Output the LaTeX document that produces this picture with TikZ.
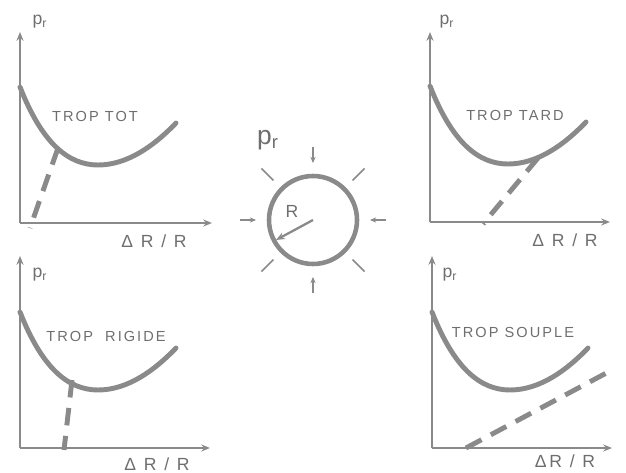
\documentclass[tikz,border=0pt]{standalone}
\usepackage{fontspec}
\setmainfont{Liberation Sans}
\usetikzlibrary{arrows.meta}
\definecolor{ink}{RGB}{138,138,138}
\definecolor{txt}{RGB}{110,110,110}

% U-shaped pressure curve, local coordinates (origin = axis corner)
\newcommand{\prcurve}{(0,-136) .. controls (22,-80) and (48,-58) .. (78,-58)
  .. controls (108,-58) and (135,-78) .. (156,-100)}

\begin{document}
\begin{tikzpicture}[x=0.02cm, y=-0.02cm,
  axis/.style={draw=ink, line width=1.1pt, -{Stealth[length=5pt, width=4pt]}},
  curve/.style={draw=ink, line width=2.8pt, line cap=round},
  tangent/.style={draw=ink, line width=2.8pt, dash pattern=on 10pt off 6pt},
  ring/.style={draw=ink, line width=2.6pt},
  press/.style={draw=ink, line width=0.9pt, -{Stealth[length=3.5pt, width=3pt]}},
  radarrow/.style={draw=ink, line width=1.3pt, -{Stealth[length=5pt, width=4pt]}},
  ray/.style={draw=ink, line width=0.9pt},
  caselabel/.style={text=txt, font=\fontsize{8.3}{9}\selectfont\addfontfeature{LetterSpace=14}},
  axlabel/.style={text=txt, font=\fontsize{10}{11}\selectfont\addfontfeature{LetterSpace=16}},
  plabel/.style={text=txt, font=\fontsize{10}{11}\selectfont},
  bigp/.style={text=txt, font=\fontsize{15}{17}\selectfont},
]
  \useasboundingbox (0,0) rectangle (626,473);

  % Top left: trop tot
  \begin{scope}[shift={(20,223)}]
    \coordinate (tlO) at (0,0);
    \coordinate (tlY) at (0,-191);
    \coordinate (tlX) at (192,0);
    \draw[axis] (tlO) -- (tlY);
    \draw[axis] (tlO) -- (tlX);
    \draw[curve] \prcurve;
    \coordinate (tlA) at (38,-75);
    \coordinate (tlB) at (10,5);
    \draw[tangent] (tlA) -- (tlB);
    \node[caselabel] (tlcase) at (75,-107) {TROP TOT};
    \node[plabel] (tlp) at (20,-201) {p\textsubscript{r}};
    \node[axlabel] (tlx) at (134,18) {Δ R / R};
  \end{scope}

  % Top right: trop tard
  \begin{scope}[shift={(430,222)}]
    \coordinate (trO) at (0,0);
    \coordinate (trY) at (0,-190);
    \coordinate (trX) at (180,0);
    \draw[axis] (trO) -- (trY);
    \draw[axis] (trO) -- (trX);
    \draw[curve] \prcurve;
    \coordinate (trA) at (108,-64);
    \coordinate (trB) at (53,2);
    \draw[tangent] (trA) -- (trB);
    \node[caselabel] (trcase) at (85,-107) {TROP TARD};
    \node[plabel] (trp) at (17,-200) {p\textsubscript{r}};
    \node[axlabel] (trx) at (135,18) {Δ R / R};
  \end{scope}

  % Bottom left: trop rigide
  \begin{scope}[shift={(20,448)}]
    \coordinate (blO) at (0,0);
    \coordinate (blY) at (0,-192);
    \coordinate (blX) at (190,0);
    \draw[axis] (blO) -- (blY);
    \draw[axis] (blO) -- (blX);
    \draw[curve] \prcurve;
    \coordinate (blA) at (52,-68);
    \coordinate (blB) at (44,2);
    \draw[tangent] (blA) -- (blB);
    \node[caselabel] (blcase) at (86,-112) {TROP\ \ RIGIDE};
    \node[plabel] (blp) at (20,-173) {p\textsubscript{r}};
    \node[axlabel] (blx) at (137,16) {Δ R / R};
  \end{scope}

  % Bottom right: trop souple
  \begin{scope}[shift={(432,448)}]
    \coordinate (brO) at (0,0);
    \coordinate (brY) at (0,-192);
    \coordinate (brX) at (180,0);
    \draw[axis] (brO) -- (brY);
    \draw[axis] (brO) -- (brX);
    \draw[curve] \prcurve;
    \coordinate (brA) at (34,0);
    \coordinate (brB) at (180,-78);
    \draw[tangent] (brA) -- (brB);
    \node[caselabel] (brcase) at (81,-116) {TROP SOUPLE};
    \node[plabel] (brp) at (18,-173) {p\textsubscript{r}};
    \node[axlabel] (brx) at (133,13) {ΔR / R};
  \end{scope}

  % Tube under external pressure
  \coordinate (C) at (313,220);
  \draw[ring] (C) circle[radius=44];
  \coordinate (Rend) at (276,240);
  \draw[radarrow] (C) -- (Rend);
  \node[plabel] (Rlab) at (292,211) {R};
  \foreach \a in {0,90,180,270}
    \draw[press] ([shift={(\a:73)}]C) -- ([shift={(\a:57)}]C);
  \foreach \a in {45,135,225,315}
    \draw[ray] ([shift={(\a:73)}]C) -- ([shift={(\a:56)}]C);
  \node[bigp] (plab) at (268,140) {p\textsubscript{r}};
\end{tikzpicture}
\end{document}
